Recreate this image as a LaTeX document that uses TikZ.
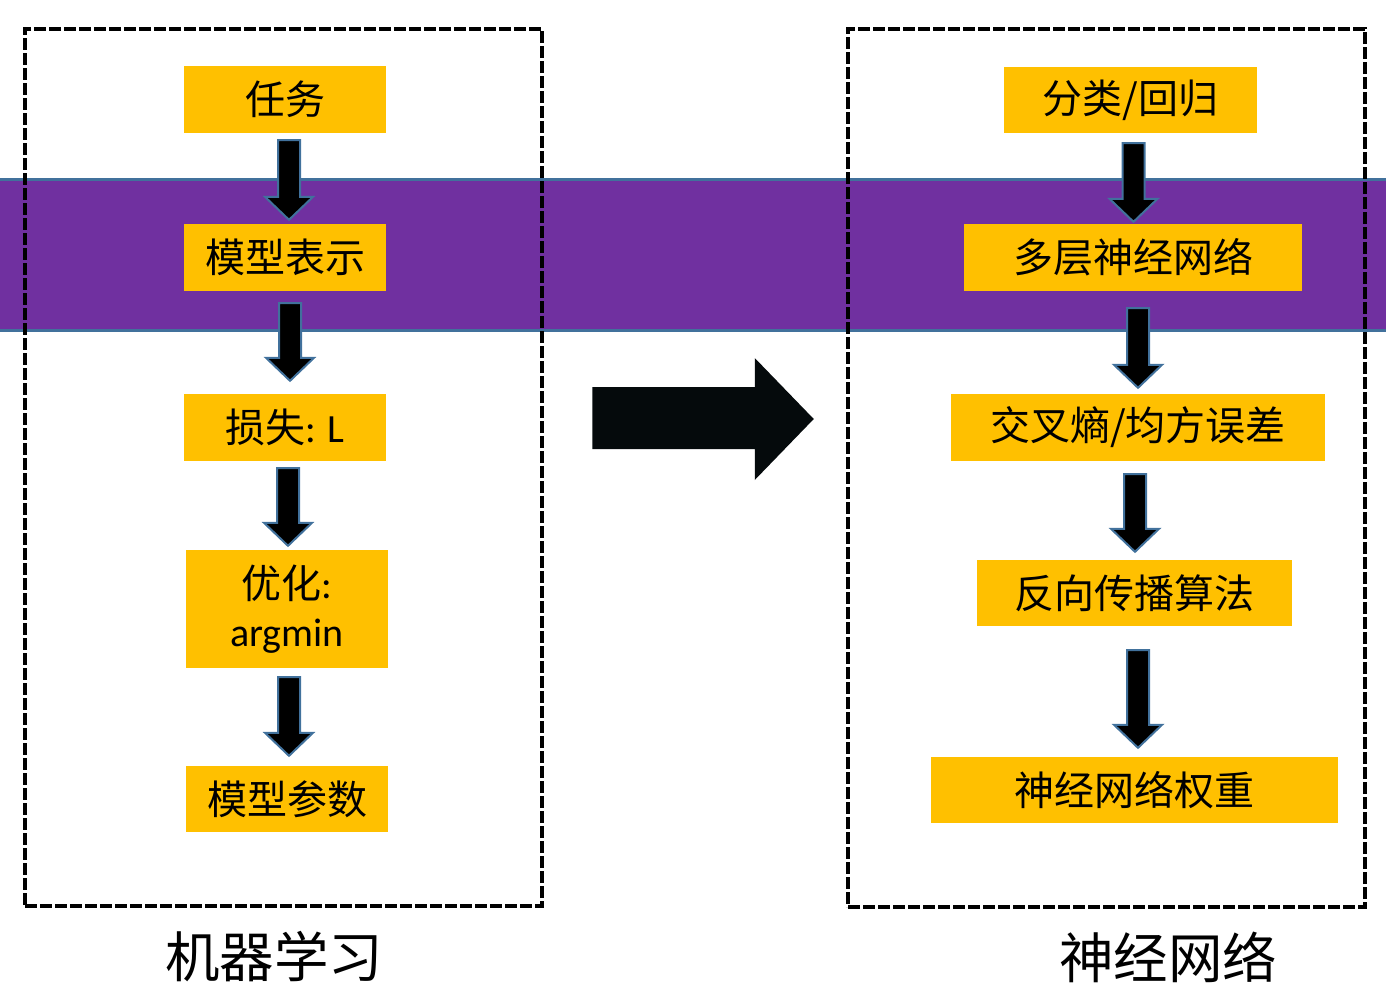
\documentclass[tikz,border=0pt]{standalone}
\usepackage{fontspec}
\setmainfont{Carlito}
\newfontfamily\cjk{Noto Sans CJK SC}
\usetikzlibrary{calc}
\definecolor{boxyellow}{HTML}{FFC000}
\definecolor{bandpurple}{HTML}{7030A0}
\definecolor{bandedge}{HTML}{41719C}
\definecolor{arrowedge}{HTML}{41719C}
\definecolor{bigarrow}{HTML}{050A0C}
\tikzset{
  dashedbox/.style={draw=black, line width=4.5pt, dash pattern=on 12pt off 3pt, inner sep=0pt},
  ybox/.style={fill=boxyellow, inner sep=0pt, font=\cjk\fontsize{40}{50}\selectfont, text=black},
  blockarrow/.style={fill=black, draw=arrowedge, line width=2pt, line join=miter},
  caption/.style={font=\cjk\fontsize{54.5}{60}\selectfont, text=black, inner sep=0pt}
}
% #1 from node, #2 to node, #3 x offset, #4 top gap, #5 tip gap
\newcommand\darrow[5]{%
  \filldraw[blockarrow] let \p1=(#1.south), \p2=(#2.north), \n1={\x1+#3} in
   (\n1-11pt,\y1-#4) -- (\n1+11pt,\y1-#4) -- (\n1+11pt,\y2+#5+23pt) -- (\n1+24pt,\y2+#5+23pt)
   -- (\n1,\y2+#5) -- (\n1-24pt,\y2+#5+23pt) -- (\n1-11pt,\y2+#5+23pt) -- cycle;}
\begin{document}
\begin{tikzpicture}[x=1pt,y=-1pt]
\useasboundingbox (0,0) rectangle (1386,993);
% purple band
\fill[bandpurple] (0,178) rectangle (1386,332);
\draw[bandedge, line width=3pt] (0,179.5) -- (1386,179.5);
\draw[bandedge, line width=3pt] (0,330.5) -- (1386,330.5);
% dashed frames
\node[dashedbox, minimum width=517pt, minimum height=877pt] (L) at (283.5,467.5) {};
\node[dashedbox, minimum width=517pt, minimum height=878pt] (R) at (1106.5,468) {};
% left boxes
\node[ybox, minimum width=202pt, minimum height=67pt] (t1) at (285,99.5) {任务};
\node[ybox, minimum width=202pt, minimum height=67pt] (t2) at (285,257.5) {模型表示};
\node[ybox, minimum width=202pt, minimum height=67pt] (t3) at (285,427.5) {损失{\fontspec{Carlito}: L}};
\node[ybox, minimum width=202pt, minimum height=118pt, align=center] (t4) at (287,609) {优化{\fontspec{Carlito}:}\\[-2pt]{\fontspec{Carlito}argmin}};
\node[ybox, minimum width=202pt, minimum height=66pt] (t5) at (287,799) {模型参数};
% right boxes
\node[ybox, minimum width=253pt, minimum height=66pt] (r1) at (1130.5,100) {分类/回归};
\node[ybox, minimum width=338pt, minimum height=67pt] (r2) at (1133,257.5) {多层神经网络};
\node[ybox, minimum width=374pt, minimum height=67pt] (r3) at (1138,427.5) {交叉熵/均方误差};
\node[ybox, minimum width=315pt, minimum height=66pt] (r4) at (1134.5,593) {反向传播算法};
\node[ybox, minimum width=407pt, minimum height=66pt] (r5) at (1134.5,790) {神经网络权重};
% left arrows
\darrow{t1}{t2}{4pt}{7pt}{4pt}
\darrow{t2}{t3}{5pt}{12pt}{13pt}
\darrow{t3}{t4}{3pt}{7pt}{4pt}
\darrow{t4}{t5}{2pt}{9pt}{10pt}
% right arrows
\darrow{r1}{r2}{3pt}{10pt}{2pt}
\darrow{r2}{r3}{5pt}{17pt}{6pt}
\darrow{r3}{r4}{-3pt}{13pt}{8pt}
\darrow{r4}{r5}{3.5pt}{24pt}{9pt}
% big arrow
\fill[bigarrow] let \p1=(L.east), \p2=(R.west) in
  (\x1+48pt,-387pt) -- (\x2-91pt,-387pt) -- (\x2-91pt,-358pt) -- (\x2-32pt,-419pt)
  -- (\x2-91pt,-480pt) -- (\x2-91pt,-449pt) -- (\x1+48pt,-449pt) -- cycle;
% captions
\node[caption] (cl) at (274,957) {机器学习};
\node[caption] (cr) at (1168,957) {神经网络};
\end{tikzpicture}
\end{document}
